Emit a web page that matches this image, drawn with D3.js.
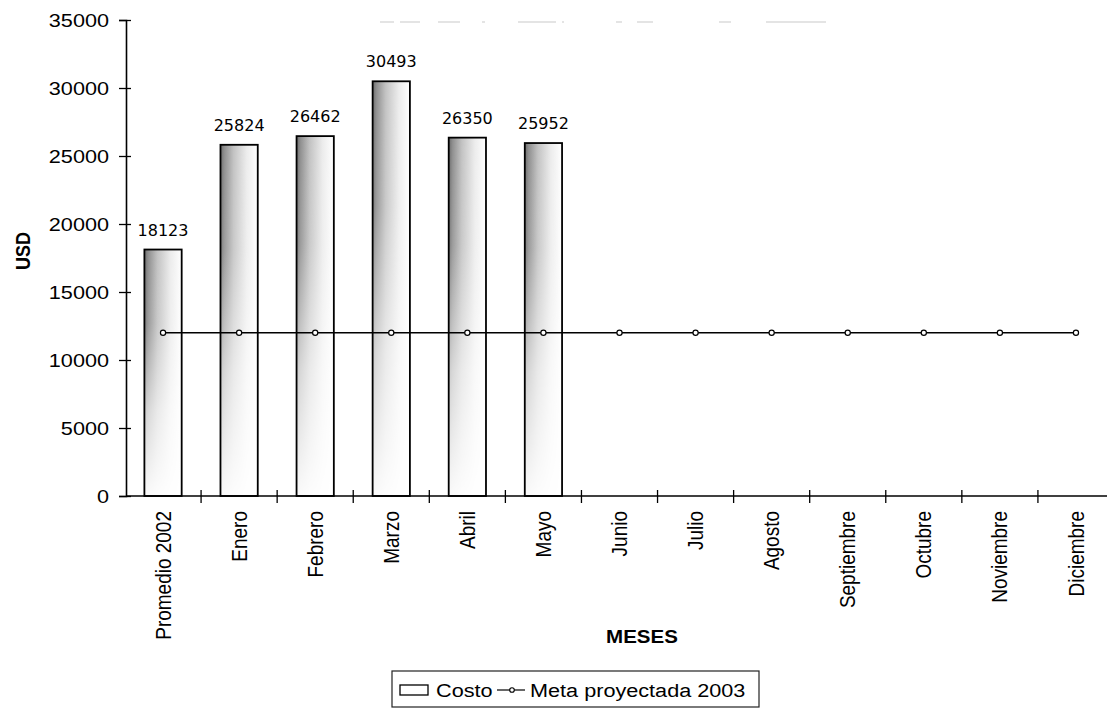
<!DOCTYPE html>
<html>
<head>
<meta charset="utf-8">
<style>
  body { margin: 0; background: #fff; }
  text { font-family: Arial, "Liberation Sans", sans-serif; fill: #000; }
</style>
</head>
<body>
<svg width="1107" height="708"></svg>
<script src="https://cdn.jsdelivr.net/npm/d3@7"></script>
<script>
    // data
    var categories = ["Promedio 2002", "Enero", "Febrero", "Marzo", "Abril", "Mayo",
        "Junio", "Julio", "Agosto", "Septiembre", "Octubre", "Noviembre", "Diciembre"];
    var costo = [18123, 25824, 26462, 30493, 26350, 25952];
    var meta = [12000, 12000, 12000, 12000, 12000, 12000, 12000,
        12000, 12000, 12000, 12000, 12000, 12000];
    var yTicks = [0, 5000, 10000, 15000, 20000, 25000, 30000, 35000];

    var svg = d3.select("svg");
    var stretch = " scale(1.14,1)";   // text in the scan is a bit wide

    var plotLeft = 126, plotRight = 1114, plotTop = 20, plotBottom = 496;

    var x = d3.scaleBand()
        .domain(categories)
        .range([plotLeft - 1, plotRight])
        .paddingInner(0.51)
        .paddingOuter(0.255);

    var y = d3.scaleLinear()
        .domain([0, 35000])
        .range([plotBottom, plotTop]);

    // gradients for the stippled bars
    var defs = svg.append("defs");
    var grad = defs.append("linearGradient")
        .attr("id", "barGrad")
        .attr("x1", 0).attr("x2", 1).attr("y1", 0).attr("y2", 0);
    [[0, "#6a6a6a"], [0.1, "#8e8e8e"], [0.35, "#c2c2c2"], [0.7, "#ececec"], [1, "#ffffff"]]
        .forEach(function (s) {
            grad.append("stop").attr("offset", s[0]).attr("stop-color", s[1]);
        });
    var fade = defs.append("linearGradient")
        .attr("id", "fadeGrad")
        .attr("x1", 0).attr("x2", 0).attr("y1", 0).attr("y2", 1);
    [[0, "#ffffff"], [0.3, "#e0e0e0"], [0.65, "#5a5a5a"], [1, "#0a0a0a"]]
        .forEach(function (s) {
            fade.append("stop").attr("offset", s[0]).attr("stop-color", s[1]);
        });
    defs.append("mask")
        .attr("id", "barMask")
        .attr("maskContentUnits", "objectBoundingBox")
        .append("rect")
        .attr("x", 0).attr("y", 0).attr("width", 1).attr("height", 1)
        .attr("fill", "url(#fadeGrad)");

    // faint remains of the cut-off title
    svg.append("line")
        .attr("x1", 380).attr("x2", 827)
        .attr("y1", 22).attr("y2", 22)
        .attr("stroke", "#bbb")
        .attr("stroke-width", 0.8)
        .attr("stroke-dasharray", "14,6,20,18,22,22,3,33,38,6,2,52,6,15,16,66,12,35,60");

    // bars
    var bars = svg.append("g");
    bars.selectAll("rect.fill")
        .data(costo)
        .enter().append("rect")
        .attr("class", "fill")
        .attr("x", function (d, i) { return x(categories[i]); })
        .attr("y", function (d) { return y(d); })
        .attr("width", x.bandwidth())
        .attr("height", function (d) { return y(0) - y(d); })
        .attr("fill", "url(#barGrad)")
        .attr("mask", "url(#barMask)");
    bars.selectAll("rect.outline")
        .data(costo)
        .enter().append("rect")
        .attr("class", "outline")
        .attr("x", function (d, i) { return x(categories[i]); })
        .attr("y", function (d) { return y(d); })
        .attr("width", x.bandwidth())
        .attr("height", function (d) { return y(0) - y(d); })
        .attr("fill", "none")
        .attr("stroke", "#000")
        .attr("stroke-width", 1.8);

    // value labels
    bars.selectAll("text.val")
        .data(costo)
        .enter().append("text")
        .attr("class", "val")
        .attr("x", function (d, i) { return x(categories[i]) + x.bandwidth() / 2; })
        .attr("y", function (d) { return y(d) - 14; })
        .attr("text-anchor", "middle")
        .style("font-family", "'DejaVu Sans', Verdana, sans-serif")
        .style("font-size", "16px")
        .text(function (d) { return d; });

    // y axis with ticks crossing the line
    var yAxis = svg.append("g")
        .attr("transform", "translate(" + plotLeft + ",0)")
        .call(d3.axisLeft(y).tickValues(yTicks).tickFormat(d3.format("d"))
            .tickSize(7).tickPadding(0));
    yAxis.select(".domain").attr("stroke", "#000").attr("stroke-width", 1.6);
    yAxis.selectAll(".tick line").attr("x1", 5).attr("stroke-width", 1.3);
    yAxis.selectAll(".tick text")
        .attr("x", null)
        .attr("dy", "0.35em")
        .attr("transform", "translate(-17,0)" + stretch)
        .style("font-size", "19px")
        .style("font-family", "Arial, 'Liberation Sans', sans-serif");

    // x axis: labels at band centres, ticks between categories
    var xAxis = svg.append("g")
        .attr("transform", "translate(0," + plotBottom + ")")
        .call(d3.axisBottom(x).tickSize(0));
    xAxis.select(".domain").remove();
    xAxis.selectAll(".tick text")
        .attr("y", null)
        .attr("dy", "0.35em")
        .attr("text-anchor", "end")
        .attr("transform", "translate(0,15)" + stretch + " rotate(-90)")
        .style("font-size", "19px")
        .style("font-family", "Arial, 'Liberation Sans', sans-serif");

    xAxis.append("line")
        .attr("x1", plotLeft).attr("x2", plotRight)
        .attr("y1", 0).attr("y2", 0)
        .attr("stroke", "#000")
        .attr("stroke-width", 1.6);
    xAxis.selectAll("line.sep")
        .data(categories)
        .enter().append("line")
        .attr("class", "sep")
        .attr("x1", function (d) { return x(d) + x.bandwidth() / 2 + x.step() / 2; })
        .attr("x2", function (d) { return x(d) + x.bandwidth() / 2 + x.step() / 2; })
        .attr("y1", -6).attr("y2", 7)
        .attr("stroke", "#000")
        .attr("stroke-width", 1.3);

    // meta line
    var line = d3.line()
        .x(function (d, i) { return x(categories[i]) + x.bandwidth() / 2; })
        .y(function (d) { return y(d); });

    svg.append("path")
        .datum(meta)
        .attr("fill", "none")
        .attr("stroke", "#000")
        .attr("stroke-width", 1.6)
        .attr("d", line);

    svg.selectAll("circle.meta")
        .data(meta)
        .enter().append("circle")
        .attr("class", "meta")
        .attr("cx", function (d, i) { return x(categories[i]) + x.bandwidth() / 2; })
        .attr("cy", function (d) { return y(d); })
        .attr("r", 2.6)
        .attr("fill", "#fff")
        .attr("stroke", "#000")
        .attr("stroke-width", 1.2);

    // axis titles
    svg.append("text")
        .attr("transform", "translate(30,251)" + stretch + " rotate(-90)")
        .attr("text-anchor", "middle")
        .style("font-size", "18px")
        .style("font-weight", "bold")
        .text("USD");

    svg.append("text")
        .attr("transform", "translate(642,643)" + stretch)
        .attr("text-anchor", "middle")
        .style("font-size", "18px")
        .style("font-weight", "bold")
        .text("MESES");

    // legend
    var legend = svg.append("g");
    legend.append("rect")
        .attr("x", 392).attr("y", 671)
        .attr("width", 367).attr("height", 36)
        .attr("fill", "#fff")
        .attr("stroke", "#222")
        .attr("stroke-width", 1.2);
    legend.append("rect")
        .attr("x", 400).attr("y", 685)
        .attr("width", 28).attr("height", 10)
        .attr("fill", "#fff")
        .attr("stroke", "#000")
        .attr("stroke-width", 1.3);
    legend.append("text")
        .attr("transform", "translate(436,697)" + stretch)
        .style("font-size", "19px")
        .text("Costo");
    legend.append("line")
        .attr("x1", 497).attr("x2", 525)
        .attr("y1", 690).attr("y2", 690)
        .attr("stroke", "#000")
        .attr("stroke-width", 1.2);
    legend.append("circle")
        .attr("cx", 512).attr("cy", 690).attr("r", 2.3)
        .attr("fill", "#fff")
        .attr("stroke", "#000")
        .attr("stroke-width", 1.1);
    legend.append("text")
        .attr("transform", "translate(530,697)" + stretch)
        .style("font-size", "19px")
        .text("Meta proyectada 2003");
</script>
</body>
</html>
